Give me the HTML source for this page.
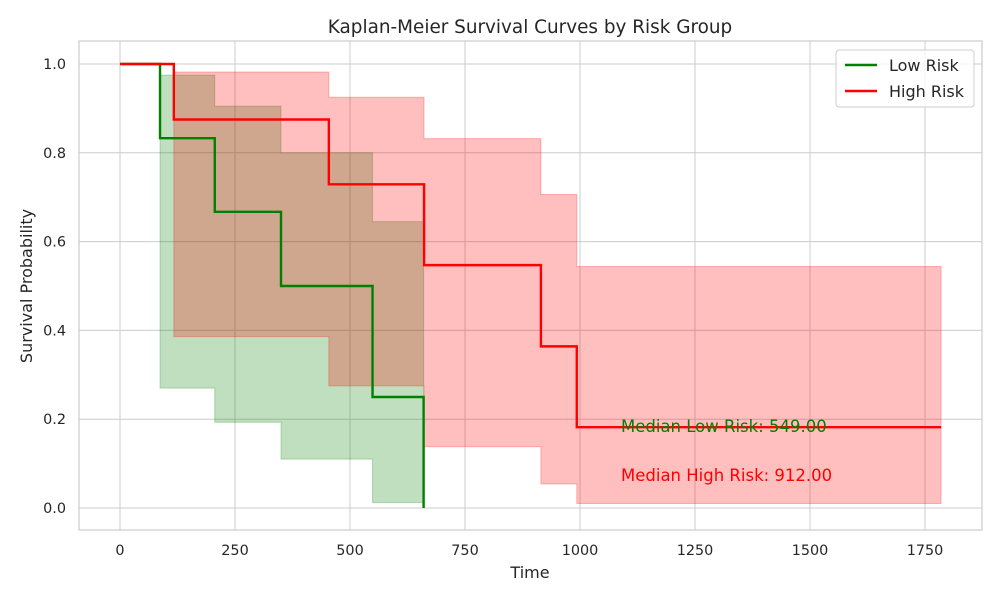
<!DOCTYPE html>
<html><head><meta charset="utf-8"><style>
body{margin:0;background:#fff;font-family:"Liberation Sans","DejaVu Sans",sans-serif;}
</style></head><body>
<svg id="chart" width="1000" height="600" xmlns="http://www.w3.org/2000/svg" font-family="'DejaVu Sans','Liberation Sans',sans-serif"></svg>
<script>
const xTicks=[0,250,500,750,1000,1250,1500,1750];
const yTicks=[0.0,0.2,0.4,0.6,0.8,1.0];
const lowTimes=[0,87,206,350,549,660];
const lowSurv=[1.0,0.833,0.667,0.5,0.25,0.0];
const lowUpper=[1.0,0.975,0.905,0.80,0.645,0.645];
const lowLower=[1.0,0.27,0.193,0.11,0.012,0.012];
const highTimes=[0,117,454,661,915,993,1785];
const highSurv=[1.0,0.875,0.729,0.547,0.364,0.182,0.182];
const highUpper=[1.0,0.982,0.925,0.832,0.706,0.544,0.544];
const highLower=[1.0,0.386,0.275,0.138,0.054,0.01,0.01];
const medians=["Median Low Risk: 549.00","Median High Risk: 912.00"];

const svg=document.getElementById('chart');
const NS='http://www.w3.org/2000/svg';
const L=79,R=982,T=41,B=530;
const X=v=>120+v*0.46;
const Y=v=>508-v*444;
function mk(tag,attrs,parent){const e=document.createElementNS(NS,tag);for(const k in attrs)e.setAttribute(k,attrs[k]);(parent||svg).appendChild(e);return e;}
function stepPath(t,s){let d=`M${X(t[0])},${Y(s[0])}`;for(let i=1;i<t.length;i++){d+=`H${X(t[i])}V${Y(s[i])}`;}return d;}
function bandPath(t,u,l){let d=`M${X(t[0])},${Y(u[0])}`;for(let i=1;i<t.length;i++){d+=`H${X(t[i])}V${Y(u[i])}`;}
 let last=t.length-1;d+=`V${Y(l[last])}`;for(let i=last;i>0;i--){d+=`H${X(t[i])}V${Y(l[i-1])}`;}d+=`H${X(t[0])}Z`;return d;}

mk('rect',{x:L,y:T,width:R-L,height:B-T,fill:'#fff',stroke:'#ccc','stroke-width':1.2});
const grid=mk('g',{});
xTicks.forEach(v=>{mk('line',{x1:X(v),x2:X(v),y1:T,y2:B,stroke:'#ccc','stroke-width':1},grid);
 const t=mk('text',{x:X(v),y:555,'text-anchor':'middle','font-size':14.4,fill:'#262626'});t.textContent=v;
 });
yTicks.forEach(v=>{mk('line',{x1:L,x2:R,y1:Y(v),y2:Y(v),stroke:'#ccc','stroke-width':1},grid);
 const t=mk('text',{x:66,y:Y(v)+5,'text-anchor':'end','font-size':14.4,fill:'#262626'});t.textContent=v.toFixed(1);
 });

const gb=mk('path',{d:bandPath(lowTimes,lowUpper,lowLower),fill:'green','fill-opacity':0.25,stroke:'green','stroke-opacity':0.25});

const rb=mk('path',{d:bandPath(highTimes,highUpper,highLower),fill:'red','fill-opacity':0.25,stroke:'red','stroke-opacity':0.25});

const gl=mk('path',{d:stepPath(lowTimes,lowSurv),fill:'none',stroke:'green','stroke-width':2.4});

const rl=mk('path',{d:stepPath(highTimes,highSurv),fill:'none',stroke:'red','stroke-width':2.4});


const m1=mk('text',{x:621,y:432,'font-size':16.5,fill:'green'});m1.textContent=medians[0];

const m2=mk('text',{x:621,y:481,'font-size':16.5,fill:'red'});m2.textContent=medians[1];


const title=mk('text',{x:530,y:33,'text-anchor':'middle','font-size':18.4,fill:'#262626'});title.textContent='Kaplan-Meier Survival Curves by Risk Group';

const xt=mk('text',{x:530,y:578,'text-anchor':'middle','font-size':16,fill:'#262626'});xt.textContent='Time';

const yt=mk('text',{x:32,y:286,'text-anchor':'middle','font-size':16,fill:'#262626',transform:'rotate(-90 32 286)'});yt.textContent='Survival Probability';


const lg=mk('g',{});
mk('rect',{x:836,y:50,width:138,height:57,rx:3,fill:'#fff','fill-opacity':0.8,stroke:'#ccc'},lg);
[['Low Risk','green',71],['High Risk','red',97]].forEach(([n,c,y])=>{
 const e=mk('g',{},lg);
 mk('line',{x1:845,x2:877,y1:y-6,y2:y-6,stroke:c,'stroke-width':2.4},e);
 const t=mk('text',{x:889,y:y,'font-size':16,fill:'#262626'},e);t.textContent=n;});
</script>
</body></html>
